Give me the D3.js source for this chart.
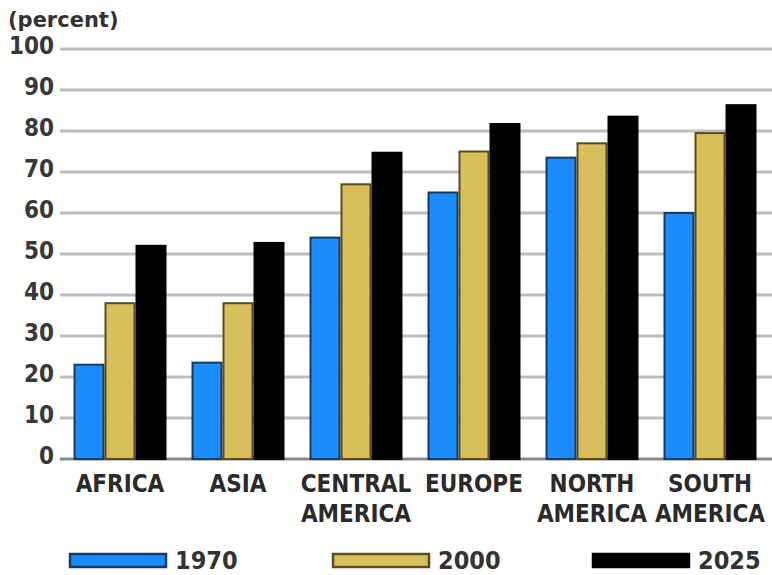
<!DOCTYPE html>
<html>
<head>
<meta charset="utf-8">
<script src="https://cdn.jsdelivr.net/npm/d3@7"></script>
<style>
  body { margin: 0; background: #fff; }
  svg { display: block; }
  .cond { font-family: "DejaVu Sans Condensed", "DejaVu Sans", sans-serif; font-stretch: condensed; font-weight: bold; }
</style>
</head>
<body>
<div id="chart"></div>
<script>
// data
var regions = [["AFRICA"], ["ASIA"], ["CENTRAL", "AMERICA"], ["EUROPE"], ["NORTH", "AMERICA"], ["SOUTH", "AMERICA"]];
var years = ["1970", "2000", "2025"];
var v1970 = [23, 23.5, 54, 65, 73.5, 60];
var v2000 = [38, 38, 67, 75, 77, 79.5];
var v2025 = [52, 52.7, 74.7, 81.7, 83.5, 86.3];
var yTicks = [0, 10, 20, 30, 40, 50, 60, 70, 80, 90, 100];

var W = 772, H = 575;
var fills = ["#1a8cfb", "#d8bf5c", "#000000"];
var strokes = ["#183a5c", "#5a4c22", "#000000"];

var svg = d3.select("#chart").append("svg")
  .attr("width", W)
  .attr("height", H);

var series = [v1970, v2000, v2025];
var names = regions.map(function (r) { return r.join(" "); });

var x = d3.scaleBand().domain(names).range([62, 768])
  .paddingInner(0.212).paddingOuter(0.0975);
var xs = d3.scaleBand().domain(years).range([0, x.bandwidth()]);
var y = d3.scaleLinear().domain([0, 100]).range([459, 49]);

// gridlines
svg.append("g").selectAll("line").data(yTicks)
  .enter().append("line")
  .attr("x1", 60).attr("x2", W)
  .attr("y1", function (d) { return y(d); })
  .attr("y2", function (d) { return y(d); })
  .attr("stroke", function (d) { return d === 0 ? "#8a8a8a" : "#bebebe"; })
  .attr("stroke-width", 3);

// y tick labels
svg.append("g").selectAll("text").data(yTicks)
  .enter().append("text")
  .attr("class", "cond")
  .attr("x", 54)
  .attr("y", function (d) { return y(d) + 5; })
  .attr("text-anchor", "end")
  .attr("font-size", 24)
  .attr("fill", "#383838")
  .text(function (d) { return d; });

svg.append("text")
  .attr("x", 8).attr("y", 27)
  .attr("font-family", "DejaVu Sans, sans-serif")
  .attr("font-weight", "bold")
  .attr("font-size", 21)
  .attr("fill", "#333")
  .text("(percent)");

// bars
var groups = svg.append("g").selectAll("g").data(names)
  .enter().append("g")
  .attr("transform", function (d) { return "translate(" + x(d) + ",0)"; });

groups.selectAll("rect")
  .data(function (d, i) { return years.map(function (yr, j) { return { yr: yr, j: j, v: series[j][i] }; }); })
  .enter().append("rect")
  .attr("x", function (d) { return xs(d.yr) + 1; })
  .attr("width", xs.bandwidth() - 2)
  .attr("y", function (d) { return y(d.v); })
  .attr("height", function (d) { return y(0) - y(d.v); })
  .attr("fill", function (d) { return fills[d.j]; })
  .attr("stroke", function (d) { return strokes[d.j]; })
  .attr("stroke-width", 2);

// category labels
var labels = svg.append("g").selectAll("text").data(regions)
  .enter().append("text")
  .attr("class", "cond")
  .attr("font-size", 24)
  .attr("fill", "#2a2a2a")
  .attr("text-anchor", "middle")
  .attr("x", function (d, i) { return x(names[i]) + x.bandwidth() / 2; })
  .attr("y", 492);

labels.selectAll("tspan").data(function (d) { return d; })
  .enter().append("tspan")
  .attr("x", function () { return d3.select(this.parentNode).attr("x"); })
  .attr("dy", function (d, i) { return i === 0 ? 0 : 30; })
  .text(function (d) { return d; });

// legend
var legX = [70, 333, 593];
var leg = svg.append("g").selectAll("g").data(years)
  .enter().append("g")
  .attr("transform", function (d, i) { return "translate(" + legX[i] + ",0)"; });

leg.append("rect")
  .attr("x", 0).attr("y", 554)
  .attr("width", 96).attr("height", 13)
  .attr("fill", function (d, i) { return fills[i]; })
  .attr("stroke", function (d, i) { return strokes[i]; })
  .attr("stroke-width", 2.5);

leg.append("text")
  .attr("class", "cond")
  .attr("x", 105).attr("y", 569)
  .attr("font-size", 25)
  .attr("fill", "#333")
  .text(function (d) { return d; });
</script>
</body>
</html>
